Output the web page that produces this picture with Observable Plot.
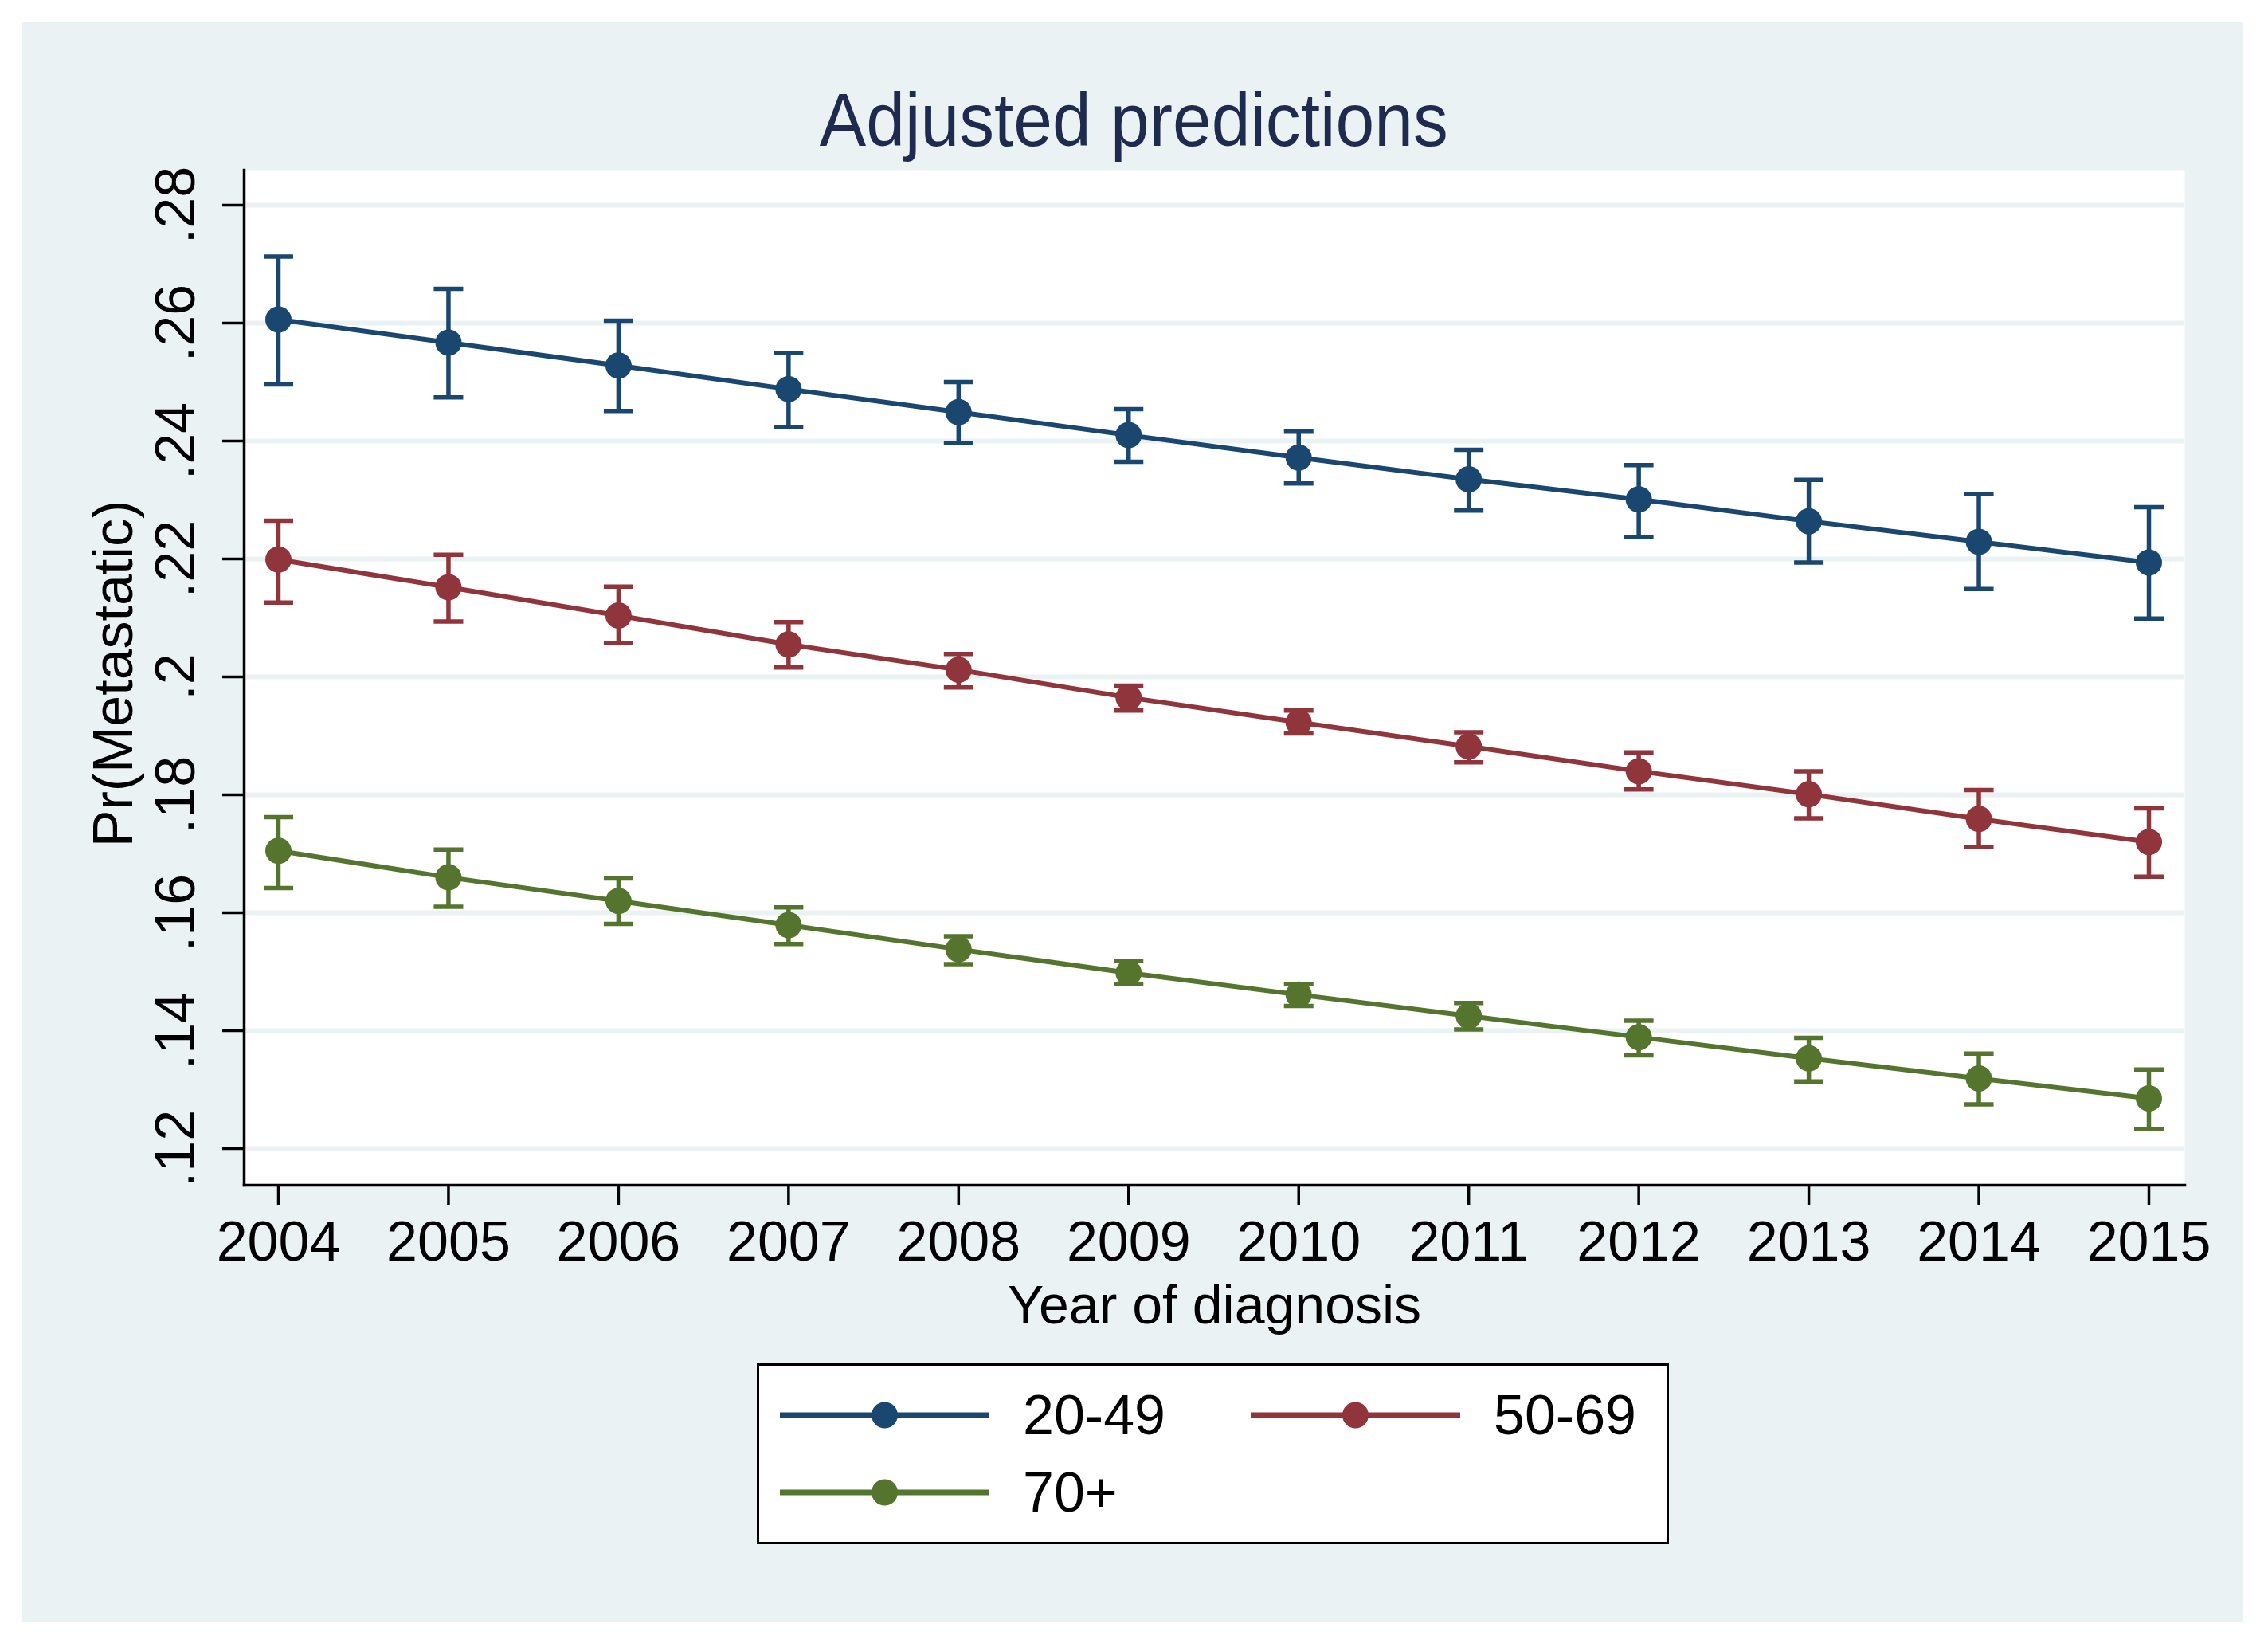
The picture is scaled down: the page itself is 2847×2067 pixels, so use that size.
<!DOCTYPE html>
<html><head><meta charset="utf-8">
<script src="https://cdn.jsdelivr.net/npm/d3@7"></script>
<script src="https://cdn.jsdelivr.net/npm/@observablehq/plot@0.6"></script>
<style>
html,body{margin:0;padding:0;background:#fff;}
#page{position:relative;width:2847px;height:2067px;overflow:hidden;font-family:"Liberation Sans",Arial,sans-serif;}
#panel{position:absolute;left:27px;top:27px;width:2788px;height:2008px;background:#eaf2f3;}
#title{position:absolute;left:0;width:2847px;top:104px;text-align:center;font-size:94px;line-height:94px;color:#1e2a4e;white-space:nowrap;}
#title span{display:inline-block;transform:scaleX(0.932);transform-origin:center;}
#chart{position:absolute;left:0;top:200px;}
#legend{position:absolute;left:950px;top:1711px;width:1139px;height:221px;border:3px solid #000;background:#fff;}
.item{position:absolute;height:70px;display:flex;align-items:center;}
.item svg{display:block;overflow:visible;}
.item span{font-size:70px;margin-left:42px;line-height:70px;color:#000;white-space:nowrap;}
</style></head><body>
<div id="page">
  <div id="panel"></div>
  <div id="title"><span>Adjusted predictions</span></div>
  <div id="chart"></div>
  <div id="legend"></div>
</div>
<script>
// ---- data ----
const years = [2004, 2005, 2006, 2007, 2008, 2009, 2010, 2011, 2012, 2013, 2014, 2015];
const seriesNames = ["20-49", "50-69", "70+"];
const seriesColors = ["#1a476f", "#90353b", "#55752f"];

const est2049 = [0.2606, 0.2567, 0.2528, 0.2488, 0.2449, 0.2410, 0.2372, 0.2335, 0.2301, 0.2264, 0.2229, 0.2194];
const lo2049  = [0.2496, 0.2474, 0.2451, 0.2424, 0.2397, 0.2365, 0.2328, 0.2282, 0.2237, 0.2194, 0.2149, 0.2099];
const hi2049  = [0.2713, 0.2658, 0.2604, 0.2549, 0.2500, 0.2454, 0.2416, 0.2385, 0.2359, 0.2334, 0.2310, 0.2288];

const est5069 = [0.2199, 0.2152, 0.2104, 0.2055, 0.2012, 0.1965, 0.1923, 0.1882, 0.1840, 0.1801, 0.1759, 0.1720];
const lo5069  = [0.2126, 0.2094, 0.2057, 0.2016, 0.1982, 0.1943, 0.1904, 0.1855, 0.1809, 0.1760, 0.1711, 0.1661];
const hi5069  = [0.2265, 0.2207, 0.2153, 0.2093, 0.2039, 0.1985, 0.1943, 0.1906, 0.1872, 0.1840, 0.1808, 0.1777];

const est70 = [0.1705, 0.1660, 0.1620, 0.1579, 0.1538, 0.1498, 0.1461, 0.1425, 0.1389, 0.1353, 0.1319, 0.1285];
const lo70  = [0.1642, 0.1610, 0.1581, 0.1547, 0.1513, 0.1479, 0.1442, 0.1402, 0.1358, 0.1314, 0.1275, 0.1233];
const hi70  = [0.1762, 0.1707, 0.1658, 0.1609, 0.1560, 0.1518, 0.1479, 0.1447, 0.1417, 0.1388, 0.1361, 0.1334];

const yTicks = [0.12, 0.14, 0.16, 0.18, 0.20, 0.22, 0.24, 0.26, 0.28];
const xLabel = "Year of diagnosis";
const yLabel = "Pr(Metastatic)";

// ---- table ----
const groups = [
  {name: seriesNames[0], est: est2049, lo: lo2049, hi: hi2049},
  {name: seriesNames[1], est: est5069, lo: lo5069, hi: hi5069},
  {name: seriesNames[2], est: est70, lo: lo70, hi: hi70}
];
const data = groups.flatMap(g => years.map((yr, i) => ({series: g.name, year: yr, est: g.est[i], lo: g.lo[i], hi: g.hi[i]})));

const fmtY = d => d3.format(".2~f")(d).replace(/^0\./, ".");
const cap = {draw(ctx, size) { const r = Math.sqrt(size / Math.PI); ctx.moveTo(-r, 0); ctx.lineTo(r, 0); }};
const FONT = "Liberation Sans, Arial, sans-serif";

const chart = Plot.plot({
  width: 2847,
  height: 1500,
  marginLeft: 306,
  marginRight: 105,
  marginTop: 13,
  marginBottom: 213,
  x: {domain: [2004, 2015], insetLeft: 43, insetRight: 45},
  y: {domain: [0.12, 0.28], insetTop: 44, insetBottom: 46},
  color: {domain: seriesNames, range: seriesColors},
  style: {background: "transparent", overflow: "visible", fontFamily: FONT, color: "black"},
  marks: [
    Plot.frame({fill: "white", stroke: "none"}),
    Plot.gridY(yTicks, {stroke: "#eaf2f3", strokeOpacity: 1, strokeWidth: 6}),
    Plot.axisX({ticks: years, tickSize: 25, tickPadding: 20, tickFormat: d => String(d), fontSize: 70, strokeWidth: 3.5, label: null}),
    Plot.axisY({ticks: yTicks, tickSize: 27, tickFormat: () => "", strokeWidth: 3.5, label: null}),
    Plot.frame({anchor: "left", stroke: "black", strokeWidth: 3.5}),
    Plot.frame({anchor: "bottom", stroke: "black", strokeWidth: 3.5}),
    Plot.text(yTicks, {y: d => d, text: fmtY, frameAnchor: "left", dx: -63, rotate: -90, textAnchor: "middle", lineAnchor: "bottom", fontSize: 70, fill: "black"}),
    Plot.text([yLabel], {text: d => d, frameAnchor: "left", dx: -141, dy: -5, rotate: -90, textAnchor: "middle", lineAnchor: "bottom", fontSize: 70, fill: "black"}),
    Plot.text([xLabel], {text: d => d, frameAnchor: "bottom", dy: 173, lineAnchor: "bottom", textAnchor: "middle", fontSize: 68, fill: "black"}),
    Plot.ruleX(data, {x: "year", y1: "lo", y2: "hi", stroke: "series", strokeWidth: 5.5}),
    Plot.dot(data, {x: "year", y: "hi", symbol: cap, r: 18.5, stroke: "series", fill: "none", strokeWidth: 5.5}),
    Plot.dot(data, {x: "year", y: "lo", symbol: cap, r: 18.5, stroke: "series", fill: "none", strokeWidth: 5.5}),
    Plot.line(data, {x: "year", y: "est", z: "series", stroke: "series", strokeWidth: 6}),
    Plot.dot(data, {x: "year", y: "est", r: 16.5, fill: "series"})
  ]
});
document.getElementById("chart").appendChild(chart);

// ---- legend ----
const legend = document.getElementById("legend");
const legendPos = [{left: 26, cy: 62}, {left: 617, cy: 62}, {left: 26, cy: 159}];
seriesNames.forEach((name, i) => {
  const item = document.createElement("div");
  item.className = "item";
  item.style.left = legendPos[i].left + "px";
  item.style.top = (legendPos[i].cy - 35) + "px";
  const c = seriesColors[i];
  item.innerHTML = `<svg width="263" height="70"><line x1="0" x2="263" y1="35" y2="35" stroke="${c}" stroke-width="7"/><circle cx="131.5" cy="35" r="16.5" fill="${c}"/></svg><span>${name}</span>`;
  legend.appendChild(item);
});
</script>
</body></html>
